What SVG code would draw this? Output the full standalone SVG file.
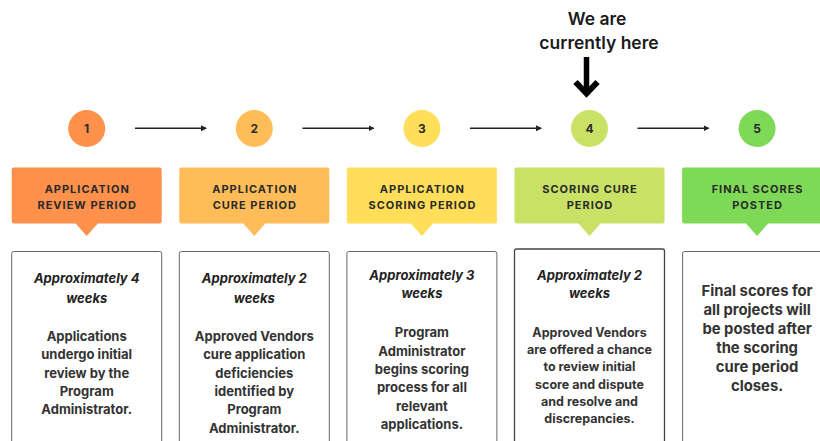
<svg xmlns="http://www.w3.org/2000/svg" width="820" height="441" viewBox="0 0 820 441">
<defs>
<style>
.num{font-family:Inter,"Liberation Sans",sans-serif;font-weight:700;font-size:12px;fill:#2b2b2b;text-anchor:middle}
.lbl{font-family:Inter,"Liberation Sans",sans-serif;font-weight:700;font-size:11px;letter-spacing:1px;fill:#2a2a2a;text-anchor:middle}
.dur{font-family:Inter,"Liberation Sans",sans-serif;font-weight:700;font-style:italic;font-size:13px;fill:#222;text-anchor:middle}
.body{font-family:Inter,"Liberation Sans",sans-serif;font-weight:700;font-size:13px;fill:#333;text-anchor:middle}
.b4{font-size:12.5px}
.b5{font-size:14.8px}
.desc{fill:#fff;stroke:#666;stroke-width:1}
.conn{stroke:#222;stroke-width:1.5;fill:none;marker-end:url(#ah)}
.here{font-family:Inter,"Liberation Sans",sans-serif;font-weight:600;font-size:17.5px;fill:#1a1a1a;text-anchor:middle}
</style>
<marker id="ah" viewBox="0 0 6 6" refX="5" refY="3" markerWidth="4" markerHeight="4" orient="auto" markerUnits="strokeWidth">
<path d="M0,0 L6,3 L0,6 z" fill="#222"/>
</marker>
</defs>
<rect width="820" height="441" fill="#fff"/>

<g id="connectors">
<line class="conn" x1="135" y1="128.3" x2="206" y2="128.3"/>
<line class="conn" x1="302.5" y1="128.3" x2="373.5" y2="128.3"/>
<line class="conn" x1="470" y1="128.3" x2="541" y2="128.3"/>
<line class="conn" x1="637.5" y1="128.3" x2="708.5" y2="128.3"/>
</g>

<g id="marker-here">
<text class="here" x="597" y="25">We are</text>
<text class="here" x="599" y="49">currently here</text>
<line x1="586.5" y1="57" x2="586.5" y2="93" stroke="#000" stroke-width="5.5"/>
<polyline points="575.5,82 586.5,93.5 597.5,82" fill="none" stroke="#000" stroke-width="6"/>
</g>

<g id="step1">
<circle cx="86.7" cy="128.5" r="18.5" fill="#FF914D"/>
<text class="num" x="86.7" y="132.8">1</text>
<path d="M13.7,167.5 H159.7 a2,2 0 0 1 2,2 V221.5 a2,2 0 0 1 -2,2 H97.7 L86.7,236 L75.7,223.5 H13.7 a2,2 0 0 1 -2,-2 V169.5 a2,2 0 0 1 2,-2 z" fill="#FF914D"/>
<text class="lbl" x="87.2" y="192.5">APPLICATION</text>
<text class="lbl" x="87.2" y="208.5">REVIEW PERIOD</text>
<rect class="desc" x="11.7" y="251.5" width="150" height="220" rx="2"/>
<text class="dur" x="86.7" y="282.7">Approximately 4</text>
<text class="dur" x="86.7" y="302.7">weeks</text>
<text class="body" x="86.7" y="340.7">Applications</text>
<text class="body" x="86.7" y="359">undergo initial</text>
<text class="body" x="86.7" y="377.5">review by the</text>
<text class="body" x="86.7" y="396">Program</text>
<text class="body" x="86.7" y="414.3">Administrator.</text>
</g>

<g id="step2">
<circle cx="254.3" cy="128.5" r="18.5" fill="#FFBD59"/>
<text class="num" x="254.3" y="132.8">2</text>
<path d="M181.3,167.5 H327.3 a2,2 0 0 1 2,2 V221.5 a2,2 0 0 1 -2,2 H265.3 L254.3,236 L243.3,223.5 H181.3 a2,2 0 0 1 -2,-2 V169.5 a2,2 0 0 1 2,-2 z" fill="#FFBD59"/>
<text class="lbl" x="254.8" y="192.5">APPLICATION</text>
<text class="lbl" x="254.8" y="208.5">CURE PERIOD</text>
<rect class="desc" x="179.3" y="251.5" width="150" height="220" rx="2"/>
<text class="dur" x="254.3" y="282.7">Approximately 2</text>
<text class="dur" x="254.3" y="302.7">weeks</text>
<text class="body" x="254.3" y="340.7">Approved Vendors</text>
<text class="body" x="254.3" y="359">cure application</text>
<text class="body" x="254.3" y="377.5">deficiencies</text>
<text class="body" x="254.3" y="396">identified by</text>
<text class="body" x="254.3" y="414.3">Program</text>
<text class="body" x="254.3" y="432.7">Administrator.</text>
</g>

<g id="step3">
<circle cx="421.9" cy="128.5" r="18.5" fill="#FFDE59"/>
<text class="num" x="421.9" y="132.8">3</text>
<path d="M348.9,167.5 H494.9 a2,2 0 0 1 2,2 V221.5 a2,2 0 0 1 -2,2 H432.9 L421.9,236 L410.9,223.5 H348.9 a2,2 0 0 1 -2,-2 V169.5 a2,2 0 0 1 2,-2 z" fill="#FFDE59"/>
<text class="lbl" x="422.4" y="192.5">APPLICATION</text>
<text class="lbl" x="422.4" y="208.5">SCORING PERIOD</text>
<rect class="desc" x="346.9" y="251.5" width="150" height="220" rx="2"/>
<text class="dur" x="421.9" y="279.5">Approximately 3</text>
<text class="dur" x="421.9" y="298">weeks</text>
<text class="body" x="421.9" y="337.3">Program</text>
<text class="body" x="421.9" y="355.7">Administrator</text>
<text class="body" x="421.9" y="374">begins scoring</text>
<text class="body" x="421.9" y="392.3">process for all</text>
<text class="body" x="421.9" y="410.7">relevant</text>
<text class="body" x="421.9" y="429">applications.</text>
</g>

<g id="step4">
<circle cx="589.5" cy="128.5" r="18.5" fill="#C9E265"/>
<text class="num" x="589.5" y="132.8">4</text>
<path d="M516.5,167.5 H662.5 a2,2 0 0 1 2,2 V221.5 a2,2 0 0 1 -2,2 H600.5 L589.5,236 L578.5,223.5 H516.5 a2,2 0 0 1 -2,-2 V169.5 a2,2 0 0 1 2,-2 z" fill="#C9E265"/>
<text class="lbl" x="590" y="192.5">SCORING CURE</text>
<text class="lbl" x="590" y="208.5">PERIOD</text>
<rect class="desc" x="514.5" y="249" width="150" height="220" rx="2" style="stroke:#444;stroke-width:1.3"/>
<text class="dur" x="589.5" y="279.5">Approximately 2</text>
<text class="dur" x="589.5" y="298">weeks</text>
<text class="body b4" x="589.5" y="336.7">Approved Vendors</text>
<text class="body b4" x="589.5" y="354">are offered a chance</text>
<text class="body b4" x="589.5" y="371.3">to review initial</text>
<text class="body b4" x="589.5" y="388.7">score and dispute</text>
<text class="body b4" x="589.5" y="406">and resolve and</text>
<text class="body b4" x="589.5" y="423">discrepancies.</text>
</g>

<g id="step5">
<circle cx="757.1" cy="128.5" r="18.5" fill="#7ED957"/>
<text class="num" x="757.1" y="132.8">5</text>
<path d="M684.1,167.5 H830.1 a2,2 0 0 1 2,2 V221.5 a2,2 0 0 1 -2,2 H768.1 L757.1,236 L746.1,223.5 H684.1 a2,2 0 0 1 -2,-2 V169.5 a2,2 0 0 1 2,-2 z" fill="#7ED957"/>
<text class="lbl" x="757.6" y="192.5">FINAL SCORES</text>
<text class="lbl" x="757.6" y="208.5">POSTED</text>
<rect class="desc" x="682.6" y="251.5" width="150" height="220" rx="2"/>
<text class="body b5" x="757.1" y="295.5">Final scores for</text>
<text class="body b5" x="757.1" y="314.5">all projects will</text>
<text class="body b5" x="757.1" y="333.5">be posted after</text>
<text class="body b5" x="757.1" y="352.5">the scoring</text>
<text class="body b5" x="757.1" y="371.5">cure period</text>
<text class="body b5" x="757.1" y="390.5">closes.</text>
</g>
</svg>
